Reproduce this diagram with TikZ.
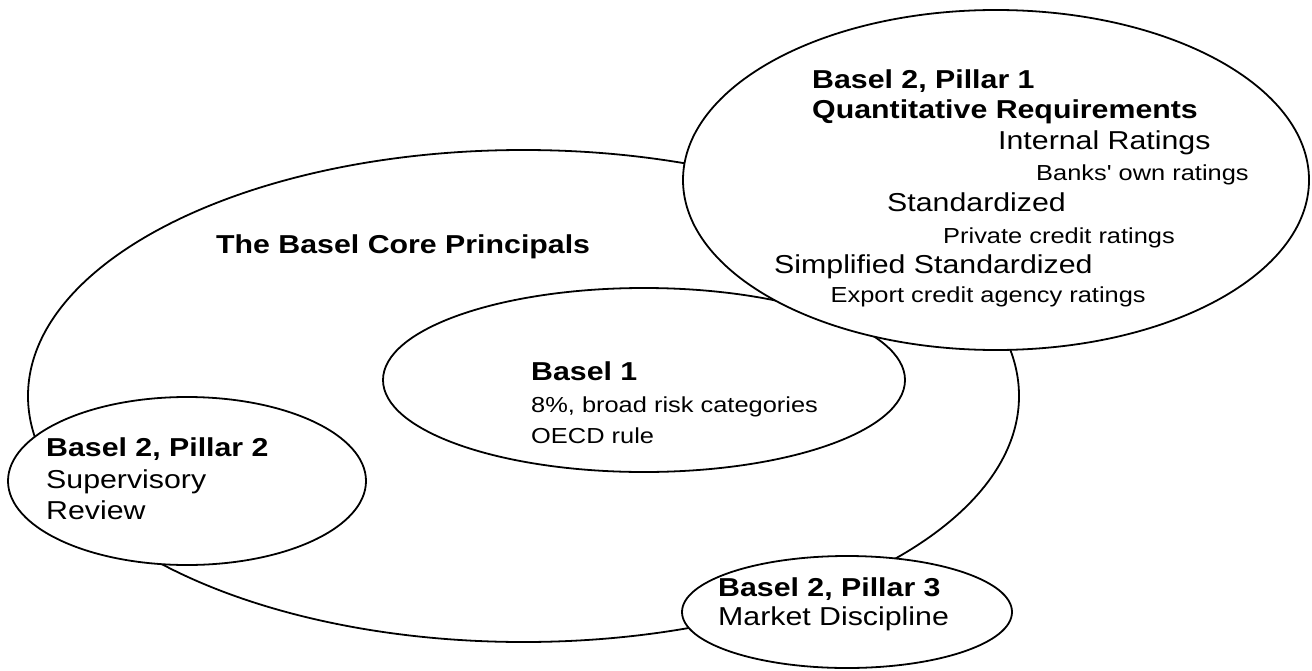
\documentclass[tikz,border=0pt]{standalone}
\usepackage{fontspec}
\setmainfont[FakeStretch=1.17,Ligatures=TeXOff]{Liberation Sans}

\begin{document}
\begin{tikzpicture}[x=1bp,y=-1bp,
    ring/.style={draw,line width=1.8pt,fill=white},
    big/.style={anchor=base west,inner sep=0pt,font=\fontsize{26}{30}\selectfont},
    bigbold/.style={anchor=base west,inner sep=0pt,font=\fontsize{26}{30}\selectfont\bfseries},
    small/.style={anchor=base west,inner sep=0pt,font=\fontsize{21.8}{26}\selectfont}]
  \fill[white] (0,0) rectangle (1312,670);
  \useasboundingbox (0,0) rectangle (1312,670);
  % the rings, outer one first
  \draw[ring] (523.5,396) ellipse [x radius=495.5,y radius=246];
  \draw[ring] (644,380) ellipse [x radius=261,y radius=92];
  \draw[ring] (996,180) ellipse [x radius=313,y radius=170];
  \draw[ring] (187,481) ellipse [x radius=179,y radius=84];
  \draw[ring] (847,612) ellipse [x radius=165,y radius=56];
  % core principals
  \node[bigbold] (core) at (216,253) {The Basel Core Principals};
  % basel 1
  \node[bigbold] (b1) at (531,380) {Basel 1};
  \node[small] (b1a) at (531,412) {8\%, broad risk categories};
  \node[small] (b1b) at (531,443) {OECD rule};
  % pillar 1
  \node[bigbold] (p1) at (812,88.5) {Basel 2, Pillar 1};
  \node[bigbold] (p1q) at (812,119) {Quantitative Requirements};
  \node[big] (irb) at (998,149) {Internal Ratings};
  \node[small] (irbs) at (1036,180) {Banks' own ratings};
  \node[big] (std) at (887,211.5) {Standardized};
  \node[small] (stds) at (943,243) {Private credit ratings};
  \node[big] (sstd) at (774,273.5) {Simplified Standardized};
  \node[small] (sstds) at (830.5,302.5) {Export credit agency ratings};
  % pillar 2
  \node[bigbold] (p2) at (46,456) {Basel 2, Pillar 2};
  \node[big] (p2a) at (46,488) {Supervisory};
  \node[big] (p2b) at (46,519) {Review};
  % pillar 3
  \node[bigbold] (p3) at (718,596) {Basel 2, Pillar 3};
  \node[big] (p3a) at (718,625) {Market Discipline};
\end{tikzpicture}
\end{document}
